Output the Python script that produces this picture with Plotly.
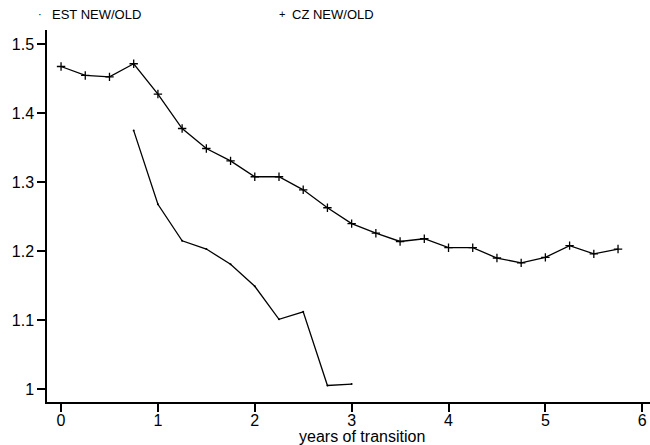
import plotly.graph_objects as go

cz_x = [0, 0.25, 0.5, 0.75, 1.0, 1.25, 1.5, 1.75, 2.0, 2.25, 2.5, 2.75, 3.0, 3.25,
        3.5, 3.75, 4.0, 4.25, 4.5, 4.75, 5.0, 5.25, 5.5, 5.75]
cz_y = [1.468, 1.455, 1.453, 1.472, 1.428, 1.378, 1.349, 1.331, 1.308, 1.308, 1.289,
        1.263, 1.240, 1.226, 1.214, 1.218, 1.205, 1.205, 1.190, 1.183, 1.191, 1.208,
        1.196, 1.203]
est_x = [0.75, 1.0, 1.25, 1.5, 1.75, 2.0, 2.25, 2.5, 2.75, 3.0]
est_y = [1.375, 1.268, 1.215, 1.203, 1.181, 1.149, 1.101, 1.112, 1.005, 1.007]

x_ticks = [0, 1, 2, 3, 4, 5, 6]
y_ticks = [1.0, 1.1, 1.2, 1.3, 1.4, 1.5]
y_tick_labels = ["1", "1.1", "1.2", "1.3", "1.4", "1.5"]

font = "Liberation Sans, Arial, sans-serif"

W, H = 650, 445
L, T, B, R = 47, 30, H - 402, 0
PW, PH = W - L - R, H - T - B


def px_to_paper(x, y):
    return (x - L) / PW, 1 - (y - T) / PH


fig = go.Figure()
fig.add_trace(go.Scatter(x=est_x, y=est_y, mode="lines+markers", name="EST NEW/OLD",
                         line=dict(color="black", width=1.3),
                         marker=dict(symbol="circle", size=2, color="black")))
fig.add_trace(go.Scatter(x=cz_x, y=cz_y, mode="lines+markers", name="CZ NEW/OLD",
                         line=dict(color="black", width=1.3),
                         marker=dict(symbol="cross-thin", size=6,
                                     line=dict(color="black", width=1.3))))

anns = []
for sym, sx, label, tx in [("·", 40, "EST NEW/OLD", 50), ("+", 282, "CZ NEW/OLD", 290)]:
    px, py = px_to_paper(sx, 14)
    anns.append(dict(text=sym, x=px, y=py, xref="paper", yref="paper", showarrow=False,
                     xanchor="center", yanchor="middle",
                     font=dict(size=11, family=font, color="black")))
    px, py = px_to_paper(tx, 14)
    anns.append(dict(text=label, x=px, y=py, xref="paper", yref="paper", showarrow=False,
                     xanchor="left", yanchor="middle",
                     font=dict(size=13, family=font, color="black")))
px, py = px_to_paper(362, 437)
anns.append(dict(text="years of transition", x=px, y=py, xref="paper", yref="paper",
                 showarrow=False, xanchor="center", yanchor="middle",
                 font=dict(size=16, family=font, color="black")))

fig.update_layout(
    width=W, height=H,
    margin=dict(l=L, r=R, t=T, b=B, pad=0),
    paper_bgcolor="white", plot_bgcolor="white",
    showlegend=False,
    font=dict(family=font, size=16, color="black"),
    xaxis=dict(range=[-0.145, 6.08], tickvals=x_ticks, showgrid=False, zeroline=False,
               showline=True, linecolor="black", linewidth=1.5,
               ticks="outside", ticklen=8, tickwidth=1.5, tickcolor="black",
               ticklabeloverflow="allow", ticklabelstandoff=-5, automargin=False),
    yaxis=dict(range=[0.981, 1.521], tickvals=y_ticks, ticktext=y_tick_labels,
               showgrid=False, zeroline=False,
               showline=True, linecolor="black", linewidth=1.5,
               ticks="outside", ticklen=8, tickwidth=1.5, tickcolor="black",
               automargin=False),
    annotations=anns,
)

fig.write_html(
    "out.html",
    config={"displayModeBar": False},
    post_script="document.body.style.margin='0';document.body.style.overflow='hidden';",
)
